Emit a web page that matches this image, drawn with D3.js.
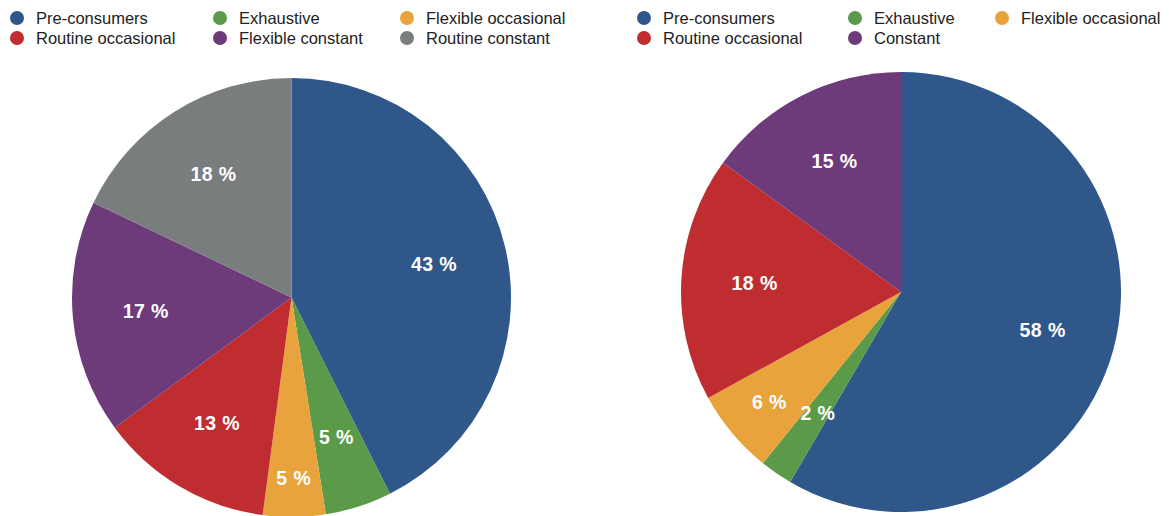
<!DOCTYPE html>
<html>
<head>
<meta charset="utf-8">
<script src="https://cdn.jsdelivr.net/npm/d3@7"></script>
<style>
  html, body { margin: 0; padding: 0; background: #fff; }
  svg { display: block; font-family: "Liberation Sans", Arial, Helvetica, sans-serif; }
</style>
</head>
<body>
<svg id="chart" width="1169" height="516"></svg>
<script>
// Consumer segments, share of respondents (%)
const leftCategories = ["Pre-consumers", "Exhaustive", "Flexible occasional", "Routine occasional", "Flexible constant", "Routine constant"];
const leftValues = [42.6, 4.9, 4.6, 12.8, 17.2, 17.9];
const leftLabels = ["43 %", "5 %", "5 %", "13 %", "17 %", "18 %"];

const rightCategories = ["Pre-consumers", "Exhaustive", "Flexible occasional", "Routine occasional", "Constant"];
const rightValues = [58.4, 2.4, 6.2, 18.0, 15.0];
const rightLabels = ["58 %", "2 %", "6 %", "18 %", "15 %"];

const leftColors = ["#2f5789", "#5b9a49", "#e8a33c", "#bf2d30", "#6e3b7a", "#7a7d7e"];
const rightColors = ["#2f5789", "#5b9a49", "#e8a33c", "#bf2d30", "#6e3b7a"];

const svg = d3.select("#chart");

function drawPie(opts) {
  const { categories, values, labels, colors, cx, cy, r, legendX, legendCols } = opts;
  const color = d3.scaleOrdinal().domain(categories).range(colors);
  const data = categories.map((c, i) => ({ name: c, value: values[i], label: labels[i] }));

  const pie = d3.pie().value(d => d.value).sort(null);
  const arc = d3.arc().innerRadius(0).outerRadius(r);

  const g = svg.append("g").attr("transform", `translate(${cx},${cy})`);
  const arcs = pie(data);

  g.selectAll("path")
    .data(arcs)
    .join("path")
    .attr("d", arc)
    .attr("fill", d => color(d.data.name));

  const texts = g.selectAll("text")
    .data(arcs)
    .join("text")
    .attr("text-anchor", "middle")
    .attr("dy", "0.35em")
    .attr("fill", "#fff")
    .attr("font-size", 19.5)
    .attr("font-weight", 700)
    .attr("letter-spacing", 0.4)
    .text(d => d.data.label);

  // place each label at two-thirds radius; push it outward while it collides with an earlier one
  const placed = [];
  const padX = 13, padY = 23;
  texts.each(function (d) {
    const mid = (d.startAngle + d.endAngle) / 2;
    const box = this.getBBox();
    const w = box.width, h = box.height * 0.8;
    let rho = r * 2 / 3;
    let x, y;
    const hits = () => placed.some(p =>
      Math.abs(p.x - x) < (p.w + w) / 2 + padX && Math.abs(p.y - y) < (p.h + h) / 2 + padY);
    for (; rho < r; rho += 1) {
      x = Math.sin(mid) * rho;
      y = -Math.cos(mid) * rho;
      if (!hits()) break;
    }
    placed.push({ x, y, w, h });
    d3.select(this).attr("transform", `translate(${x},${y})`);
  });

  // legend: three columns, two rows
  const legend = svg.append("g");
  const items = legend.selectAll("g")
    .data(categories)
    .join("g")
    .attr("transform", (d, i) => `translate(${legendX + legendCols[i % 3]},${18 + Math.floor(i / 3) * 20})`);
  items.append("circle")
    .attr("r", 7)
    .attr("fill", d => color(d));
  items.append("text")
    .attr("x", 19)
    .attr("dy", "0.35em")
    .attr("font-size", 16.5)
    .attr("fill", "#222")
    .text(d => d);
}

drawPie({
  categories: leftCategories, values: leftValues, labels: leftLabels, colors: leftColors,
  cx: 291.5, cy: 297.5, r: 219.5, legendX: 17, legendCols: [0, 203, 390]
});

drawPie({
  categories: rightCategories, values: rightValues, labels: rightLabels, colors: rightColors,
  cx: 901, cy: 292, r: 220, legendX: 644, legendCols: [0, 211, 358]
});
</script>
</body>
</html>
